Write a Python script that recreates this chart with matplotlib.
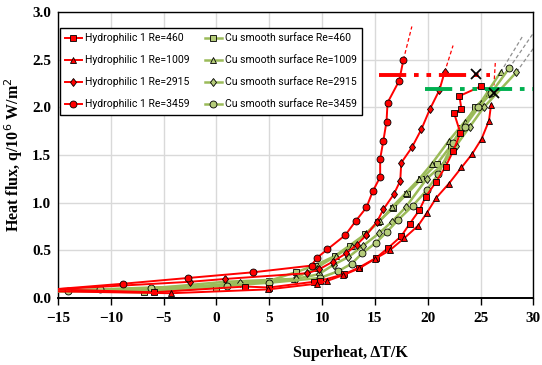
import matplotlib
matplotlib.use("Agg")
import matplotlib.pyplot as plt

# Hydrophilic 1 series (red)
h460_x = [-15.5, -5.9, 2.7, 5.0, 9.2, 9.8, 12.1, 13.5, 15.1, 16.2, 17.5, 18.3, 19.2, 19.8, 20.8, 21.7, 22.4, 23.1, 22.5, 23.2, 23.0, 25.0]
h460_y = [0.09, 0.06, 0.12, 0.11, 0.17, 0.18, 0.25, 0.32, 0.42, 0.52, 0.65, 0.78, 0.92, 1.06, 1.22, 1.38, 1.54, 1.73, 1.94, 1.98, 2.12, 2.22]
h1009_x = [-15.5, -4.3, 4.9, 9.5, 10.5, 12.0, 13.5, 15.0, 16.4, 17.8, 19.1, 19.9, 20.8, 22.0, 23.2, 24.2, 25.1, 25.8, 26.0]
h1009_y = [0.07, 0.05, 0.09, 0.15, 0.18, 0.24, 0.31, 0.41, 0.50, 0.63, 0.76, 0.89, 1.05, 1.20, 1.37, 1.51, 1.67, 1.86, 2.03]
h2915_x = [-15.5, -2.5, 0.85, 8.6, 9.7, 11.0, 12.3, 13.3, 14.2, 15.2, 15.8, 16.8, 17.4, 17.5, 18.5, 19.4, 20.2, 21.1, 21.6]
h2915_y = [0.09, 0.17, 0.20, 0.26, 0.30, 0.38, 0.47, 0.56, 0.66, 0.80, 0.93, 1.09, 1.23, 1.42, 1.58, 1.77, 1.98, 2.18, 2.37]
h3459_x = [-15.5, -8.8, -2.7, 3.5, 9.0, 9.5, 10.5, 12.2, 13.2, 14.2, 14.8, 15.5, 15.5, 15.8, 16.1, 16.2, 17.3, 17.7]
h3459_y = [0.09, 0.15, 0.21, 0.27, 0.34, 0.42, 0.51, 0.66, 0.81, 0.95, 1.12, 1.27, 1.46, 1.65, 1.85, 2.05, 2.28, 2.50]

# Cu smooth surface series (green)
cu460_x = [-15.5, -6.9, 0.0, 5.0, 7.5, 9.3, 11.2, 12.6, 14.1, 15.3, 16.7, 18.0, 19.4, 20.9, 22.2, 23.2, 24.5, 25.8]
cu460_y = [0.08, 0.06, 0.11, 0.18, 0.27, 0.34, 0.44, 0.55, 0.67, 0.80, 0.94, 1.09, 1.25, 1.41, 1.60, 1.78, 2.00, 2.15]
cu1009_x = [-15.5, -6.2, 0.8, 7.3, 9.5, 11.3, 12.8, 14.2, 15.5, 16.6, 17.9, 19.2, 20.4, 22.0, 23.5, 25.0, 26.9]
cu1009_y = [0.08, 0.10, 0.17, 0.20, 0.32, 0.44, 0.55, 0.68, 0.81, 0.95, 1.10, 1.25, 1.41, 1.65, 1.85, 2.05, 2.37]
cu2915_x = [-15.5, -6.0, 2.2, 7.5, 9.7, 11.1, 12.5, 13.9, 15.4, 16.6, 17.9, 19.9, 21.5, 22.7, 24.0, 25.3, 28.4]
cu2915_y = [0.07, 0.08, 0.16, 0.20, 0.25, 0.35, 0.43, 0.55, 0.68, 0.80, 0.95, 1.25, 1.41, 1.60, 1.80, 2.00, 2.37]
cu3459_x = [-15.5, -14.1, -11.0, -6.2, 1.0, 5.0, 9.8, 11.5, 12.8, 13.8, 15.1, 16.1, 17.2, 18.6, 19.9, 21.0, 22.4, 23.5, 24.8, 26.0, 27.7]
cu3459_y = [0.07, 0.07, 0.09, 0.11, 0.13, 0.16, 0.21, 0.28, 0.36, 0.47, 0.58, 0.69, 0.82, 0.97, 1.13, 1.30, 1.63, 1.80, 2.00, 2.15, 2.41]

# CHF points (x markers) and extrapolation lines
chf_x = [24.6, 26.3]
chf_y = [2.35, 2.15]
red_ext = [([17.7, 18.5], [2.50, 2.85]), ([21.6, 22.4], [2.37, 2.65]), ([26.2, 26.4], [2.10, 2.47])]
grey_ext = [([26.9, 29.0], [2.37, 2.75]), ([27.7, 30.0], [2.41, 2.78]), ([28.4, 30.0], [2.37, 2.62])]
red_chf_level = 2.34
red_chf_span = [15.4, 25.9]
green_chf_level = 2.19
green_chf_span = [19.7, 30.0]

RED = "#ff0000"
GREEN = "#9bbb59"
GREEN_FILL = "#b5cc7a"
serif = ["Liberation Serif", "DejaVu Serif"]
sans = ["Roboto", "DejaVu Sans"]

fig = plt.figure(figsize=(5.42, 3.65), dpi=100)
ax = fig.add_axes([0.107, 0.1836, 0.877, 0.783])

red_series = [
    (h460_x, h460_y, "s", "Hydrophilic 1 Re=460", 5),
    (h1009_x, h1009_y, "^", "Hydrophilic 1 Re=1009", 5),
    (h2915_x, h2915_y, "d", "Hydrophilic 1 Re=2915", 4.5),
    (h3459_x, h3459_y, "o", "Hydrophilic 1 Re=3459", 5),
]
green_series = [
    (cu460_x, cu460_y, "s", "Cu smooth surface Re=460", 5),
    (cu1009_x, cu1009_y, "^", "Cu smooth surface Re=1009", 4.5),
    (cu2915_x, cu2915_y, "d", "Cu smooth surface Re=2915", 4.5),
    (cu3459_x, cu3459_y, "o", "Cu smooth surface Re=3459", 5),
]

handles = []
for x, y, m, lab, ms in red_series:
    (h,) = ax.plot(x, y, color=RED, lw=1.4, marker=m, ms=ms, mfc=RED,
                   mec="black", mew=0.6, label=lab, zorder=4)
    handles.append(h)
for x, y, m, lab, ms in green_series:
    (h,) = ax.plot(x, y, color=GREEN, lw=1.8, marker=m, ms=ms, mfc=GREEN_FILL,
                   mec="black", mew=0.6, label=lab, zorder=3)
    handles.append(h)

for ex, ey in red_ext:
    ax.plot(ex, ey, color=RED, lw=0.9, ls=(0, (3, 2)), zorder=2)
for ex, ey in grey_ext:
    ax.plot(ex, ey, color="#909090", lw=0.9, ls=(0, (3, 2)), zorder=2)

ax.plot(red_chf_span, [red_chf_level] * 2, color=RED, lw=2.8,
        ls=(0, (7, 2, 1.2, 2, 1.2, 2)), zorder=5)
ax.plot(green_chf_span, [green_chf_level] * 2, color="#00b050", lw=2.8,
        ls=(0, (7, 2, 1.2, 2, 1.2, 2)), zorder=5)
ax.plot(chf_x, chf_y, ls="none", marker="x", ms=7, mew=1.3, color="black", zorder=6)

ax.set_xlim(-15, 30)
ax.set_ylim(0, 3.0)
ax.set_xticks(range(-15, 31, 5))
ax.set_yticks([0.0, 0.5, 1.0, 1.5, 2.0, 2.5, 3.0])
ax.set_yticklabels(["0.0", "0.5", "1.0", "1.5", "2.0", "2.5", "3.0"])
ax.grid(True, color="#d9d9d9", lw=1.0)
ax.set_axisbelow(True)
for s in ax.spines.values():
    s.set_color("black")
    s.set_linewidth(1.0)
ax.spines["bottom"].set_linewidth(1.4)
ax.tick_params(axis="x", direction="out", length=5, width=1.0, pad=5)
ax.tick_params(axis="y", length=0, pad=5)
for lab in ax.get_xticklabels() + ax.get_yticklabels():
    lab.set_family(serif)
    lab.set_fontweight("bold")
    lab.set_fontsize(11)

ax.set_xlabel("Superheat, \u0394T/K", family=serif, fontweight="bold", fontsize=11.5)
ax.xaxis.set_label_coords(0.615, -0.165)
ax.set_ylabel("Heat flux, q/10$^6$ W/m$^2$", family=serif, fontweight="bold", fontsize=11.5)
ax.yaxis.set_label_coords(-0.07, 0.5)

leg = ax.legend(handles=handles, ncol=2, loc="upper left", bbox_to_anchor=(0.004, 0.944),
                prop={"family": sans, "size": 7.5}, frameon=True, fancybox=False,
                edgecolor="black", framealpha=1.0, handlelength=1.6, handletextpad=0.3,
                columnspacing=1.5, labelspacing=1.15, borderpad=0.5, borderaxespad=0.0)
leg.get_frame().set_linewidth(1.0)

fig.savefig("out.png", dpi=100)
